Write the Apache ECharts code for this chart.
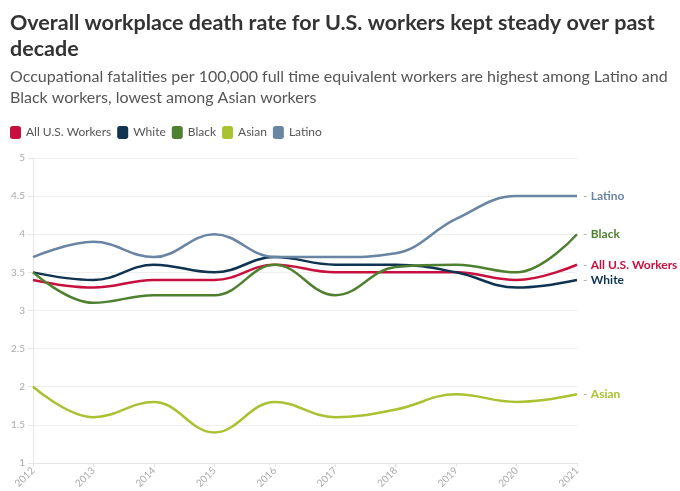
<!DOCTYPE html>
<html lang="en">
	<head>
		<meta charset="utf-8">
		<title>Workplace death rate</title>
		<script src="https://cdn.jsdelivr.net/npm/echarts@6/dist/echarts.min.js"></script>
		<style type="text/css">
			html, body { margin: 0; padding: 0; background: #fff; }
			#chart { width: 680px; height: 491px; }
		</style>
	</head>
	<body>
		<div id="chart"></div>
		<script type="text/javascript">
			// data
			var years = ['2012', '2013', '2014', '2015', '2016', '2017', '2018', '2019', '2020', '2021'];
			var allWorkers = [3.4, 3.3, 3.4, 3.4, 3.6, 3.5, 3.5, 3.5, 3.4, 3.6];
			var white = [3.5, 3.4, 3.6, 3.5, 3.7, 3.6, 3.6, 3.5, 3.3, 3.4];
			var black = [3.5, 3.1, 3.2, 3.2, 3.6, 3.2, 3.57, 3.6, 3.5, 4.0];
			var asian = [2.0, 1.6, 1.8, 1.4, 1.8, 1.6, 1.7, 1.9, 1.8, 1.9];
			var latino = [3.7, 3.9, 3.7, 4.0, 3.7, 3.7, 3.75, 4.2, 4.5, 4.5];

			var names = ['All U.S. Workers', 'White', 'Black', 'Asian', 'Latino'];
			var colors = ['#c8103e', '#0f3350', '#4f8030', '#a8c232', '#6a84a3'];
			var values = [allWorkers, white, black, asian, latino];

			var FONT = 'Lato, "Noto Sans", sans-serif';

			var series = names.map(function(n, i) {
				return {
					name: n,
					type: 'line',
					data: values[i],
					smooth: 0.4,
					symbol: 'none',
					lineStyle: { width: 2.5, color: colors[i] },
					itemStyle: { color: colors[i] },
					endLabel: {
						show: true,
						distance: 6,
						formatter: '{d|-} {n|{a}}',
						rich: {
							d: { color: '#aaa', fontSize: 12, fontFamily: FONT },
							n: { color: colors[i], fontSize: 12, fontWeight: 'bold', fontFamily: FONT }
						}
					},
					emphasis: { disabled: true }
				};
			});

			var myChart = echarts.init(document.getElementById('chart'));
			myChart.setOption({
				animation: false,
				title: {
					left: 5,
					top: 5,
					text: 'Overall workplace death rate for U.S. workers kept steady over past\ndecade',
					subtext: 'Occupational fatalities per 100,000 full time equivalent workers are highest among Latino and\nBlack workers, lowest among Asian workers',
					itemGap: 4,
					textStyle: { fontFamily: FONT, fontSize: 21.5, fontWeight: 'bold', color: '#333', lineHeight: 26 },
					subtextStyle: { fontFamily: FONT, fontSize: 16, color: '#555', lineHeight: 21 }
				},
				legend: {
					left: 5,
					top: 121,
					icon: 'roundRect',
					itemWidth: 11,
					itemHeight: 13,
					itemGap: 6,
					textStyle: { fontFamily: FONT, fontSize: 12, color: '#555' },
					data: names
				},
				grid: { left: 33, right: 103, top: 158, bottom: 28, containLabel: false },
				xAxis: {
					type: 'category',
					data: years,
					boundaryGap: false,
					axisLine: { lineStyle: { color: '#e6e6e6' } },
					axisTick: { show: true, alignWithLabel: true, length: 4, lineStyle: { color: '#e6e6e6' } },
					axisLabel: { rotate: 45, fontFamily: FONT, fontSize: 10, color: '#aaa', margin: 6 }
				},
				yAxis: {
					type: 'value',
					min: 1,
					max: 5,
					interval: 0.5,
					axisLine: { show: true, lineStyle: { color: '#e6e6e6' } },
					axisTick: { show: true, length: 5, lineStyle: { color: '#e6e6e6' } },
					axisLabel: { fontFamily: FONT, fontSize: 10, color: '#aaa', margin: 8 },
					splitLine: { lineStyle: { color: '#eeeeee' } }
				},
				series: series
			});
		</script>
	</body>
</html>
